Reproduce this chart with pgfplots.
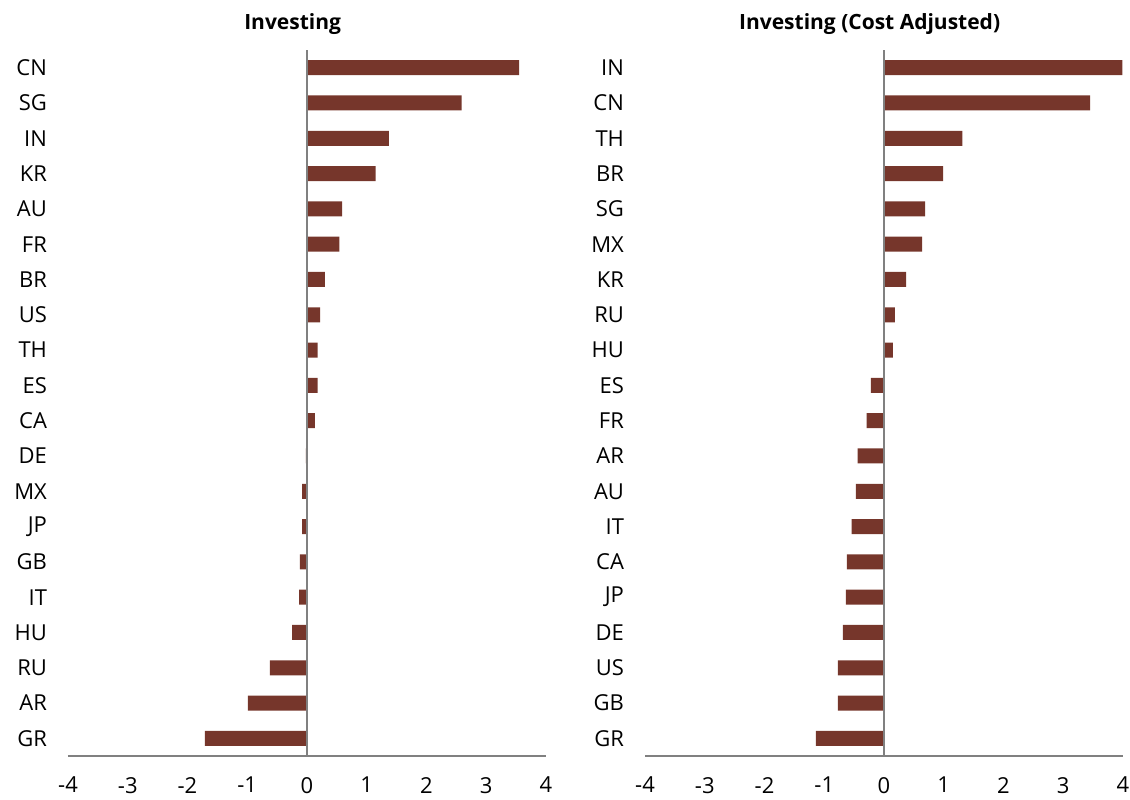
\documentclass[border=0pt]{standalone}
\usepackage{fontspec}
\setmainfont{Open Sans}
\usepackage{pgfplots}
\pgfplotsset{compat=1.18}

\definecolor{barred}{RGB}{118,54,43}
\definecolor{axgray}{RGB}{128,128,128}

\pgfplotsset{
  panel/.style={
    xbar,
    scale only axis,
    width=239pt, height=353pt,
    xmin=-4, xmax=4,
    ymin=-0.5, ymax=19.5,
    y dir=reverse,
    bar width=7.5pt,
    xtick={-4,-3,...,4},
    ytick={0,...,19},
    major tick length=0pt,
    axis x line*=bottom,
    axis y line*=left,
    y axis line style={draw=none},
    x axis line style={draw=axgray, line width=0.9pt, -},
    tick label style={font=\fontsize{11}{13}\selectfont},
    /pgf/number format/assume math mode=true,
    xticklabel style={yshift=-7pt},
    yticklabel style={anchor=east, xshift=-7pt},
    title style={font=\bfseries\fontsize{10.5}{12}\selectfont, at={(0.47,1)}, yshift=-2pt},
  },
}

\begin{document}
\begin{tikzpicture}
\useasboundingbox (-34pt,-21.5pt) rectangle (531pt,378pt);
\begin{axis}[panel,
  title={Investing},
  yticklabels={CN,SG,IN,KR,AU,FR,BR,US,TH,ES,CA,DE,MX,JP,GB,IT,HU,RU,AR,GR},
]
\addplot[fill=barred, draw=none] coordinates {
  (3.55,0) (2.59,1) (1.37,2) (1.15,3) (0.59,4) (0.54,5) (0.30,6) (0.22,7)
  (0.18,8) (0.18,9) (0.13,10) (-0.02,11) (-0.08,12) (-0.08,13) (-0.12,14)
  (-0.13,15) (-0.25,16) (-0.62,17) (-0.99,18) (-1.71,19)
};
\draw[axgray, line width=0.9pt] (axis cs:0,-0.5) -- (axis cs:0,19.5);
\end{axis}
\begin{axis}[panel, at={(288.5pt,0pt)},
  title={Investing (Cost Adjusted)},
  yticklabels={IN,CN,TH,BR,SG,MX,KR,RU,HU,ES,FR,AR,AU,IT,CA,JP,DE,US,GB,GR},
]
\addplot[fill=barred, draw=none] coordinates {
  (3.99,0) (3.45,1) (1.31,2) (0.99,3) (0.69,4) (0.64,5) (0.37,6) (0.18,7)
  (0.15,8) (-0.22,9) (-0.29,10) (-0.44,11) (-0.47,12) (-0.54,13) (-0.62,14)
  (-0.64,15) (-0.69,16) (-0.77,17) (-0.77,18) (-1.14,19)
};
\draw[axgray, line width=0.9pt] (axis cs:0,-0.5) -- (axis cs:0,19.5);
\end{axis}
\end{tikzpicture}
\end{document}
